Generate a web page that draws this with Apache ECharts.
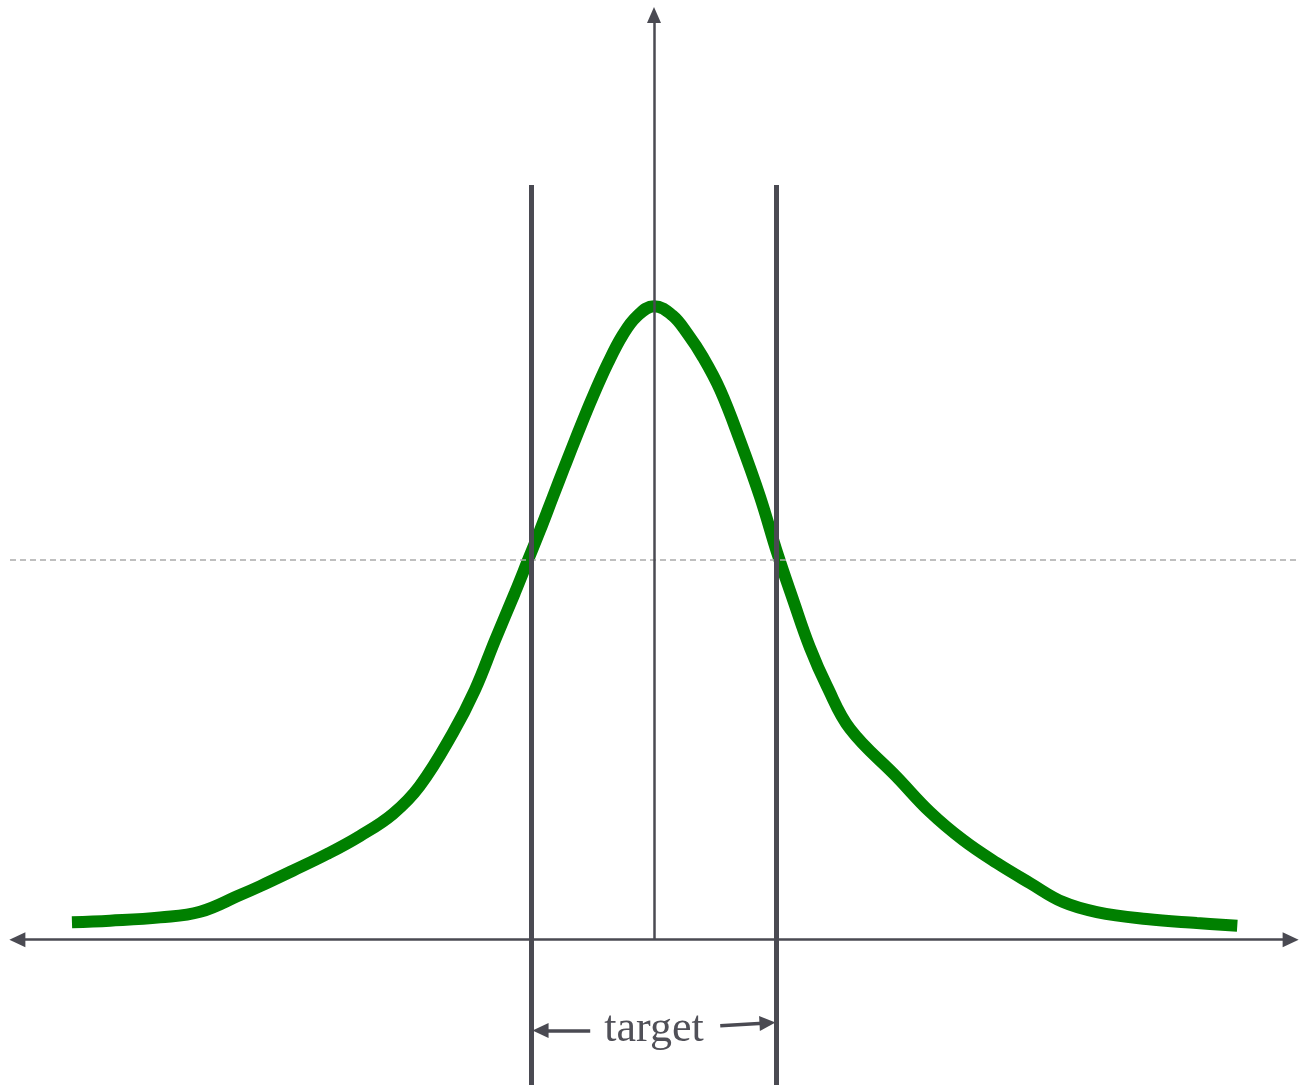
<!DOCTYPE html>
<html>
<head>
<meta charset="utf-8">
<style>
  html, body { margin: 0; padding: 0; background: #fff; }
  #chart { width: 1300px; height: 1085px; }
</style>
<script src="https://cdn.jsdelivr.net/npm/echarts@6/dist/echarts.min.js"></script>
</head>
<body>
<div id="chart"></div>
<script>
  // bell curve (x: arbitrary units, y: 0..100 height)
  const curveX = [-9.49, -8.87, -8.05, -7.40, -6.75, -6.42, -5.89, -5.33, -4.79, -4.26, -3.82, -3.28, -2.92, -2.59,
                  -2.27, -2.05, -1.86, -1.65, -1.45, -1.24, -1.01, -0.75, -0.51, -0.28, 0,
                  0.30, 0.55, 0.80, 1.08, 1.40, 1.73, 2.01, 2.27, 2.54, 2.82, 3.20, 3.96, 4.50, 5.04, 5.59,
                  6.13, 6.67, 7.22, 8.03, 8.85, 9.51];
  const curveY = [1.86, 2.03, 2.39, 2.99, 4.79, 5.75, 7.40, 9.19, 11.15, 13.48, 16.49, 22.18, 26.8, 32.17,
                  37.2, 40.8, 43.9, 47.5, 50.9, 54.4, 58.1, 61.9, 64.9, 66.9, 68.0,
                  67.0, 65.0, 62.5, 58.99, 53.62, 47.5, 41.48, 36.43, 31.39, 27.2, 22.6, 17.45, 13.7, 10.69, 8.22,
                  6.07, 4.03, 2.96, 2.21, 1.78, 1.49];

  // target band and threshold
  const targetLow = -2;
  const targetHigh = 2;
  const threshold = 40.8;
  const targetLineTop = 81;
  const targetLabel = 'target';

  // axis extents
  const xMin = -10.5, xMax = 10.5;
  const yMin = -15.6, yMax = 100;

  const axisColor = '#4a4a52';

  const chart = echarts.init(document.getElementById('chart'));

  const curveData = curveX.map((x, i) => [x, curveY[i]]);

  // 箭头端点
  const arrowEnd = (coord, size) => ({ coord: coord, symbol: 'triangle', symbolSize: size });
  const plainEnd = (coord) => ({ coord: coord, symbol: 'none' });

  const option = {
    animation: false,
    grid: { left: 10, right: 2, top: 8, bottom: 0 },
    xAxis: {
      type: 'value',
      min: xMin,
      max: xMax,
      show: false
    },
    yAxis: {
      type: 'value',
      min: yMin,
      max: yMax,
      show: false
    },
    series: [
      {
        type: 'line',
        data: curveData,
        smooth: 0.4,
        symbol: 'none',
        lineStyle: { color: '#008000', width: 12 },
        itemStyle: { color: '#008000' },
        z: 3,
        markLine: {
          silent: true,
          symbol: 'none',
          label: { show: false },
          lineStyle: { color: '#aaaaaa', width: 1.5, type: [6, 4] },
          data: [
            [{ coord: [xMin, threshold] }, { coord: [xMax, threshold] }]
          ]
        }
      },
      {
        type: 'line',
        data: [],
        color: axisColor,
        z: 4,
        markLine: {
          silent: true,
          symbol: 'none',
          label: { show: false },
          lineStyle: { color: axisColor, width: 2.5, type: 'solid' },
          data: [
            // x axis
            [arrowEnd([-10.38, 0], [15, 16]), arrowEnd([10.38, 0], [15, 16])],
            // y axis
            [plainEnd([0, 0]), arrowEnd([0, 99.25], [14, 16])],
            // target limits
            [plainEnd([targetLow, targetLineTop]), plainEnd([targetLow, yMin])],
            [plainEnd([targetHigh, targetLineTop]), plainEnd([targetHigh, yMin])],
            // target arrows
            [plainEnd([-1.04, -9.76]), arrowEnd([-1.85, -9.76], [15, 16])],
            [plainEnd([1.08, -9.23]), arrowEnd([1.85, -8.95], [15, 16])]
          ].map((pair, i) => {
            if (i === 2 || i === 3) {
              pair[0].lineStyle = { width: 5, color: axisColor };
            } else if (i >= 4) {
              pair[0].lineStyle = { width: 3.5, color: axisColor };
            }
            return pair;
          })
        },
        markPoint: {
          silent: true,
          symbol: 'circle',
          symbolSize: 1,
          itemStyle: { color: 'rgba(0,0,0,0)' },
          label: {
            show: true,
            position: 'inside',
            formatter: targetLabel,
            color: '#505058',
            fontSize: 44,
            fontFamily: '"Liberation Serif", "DejaVu Serif", serif'
          },
          data: [{ coord: [0, -9.6] }]
        }
      }
    ]
  };

  chart.setOption(option);

  window.addEventListener('resize', () => {
    chart.resize();
  });
</script>
</body>
</html>
